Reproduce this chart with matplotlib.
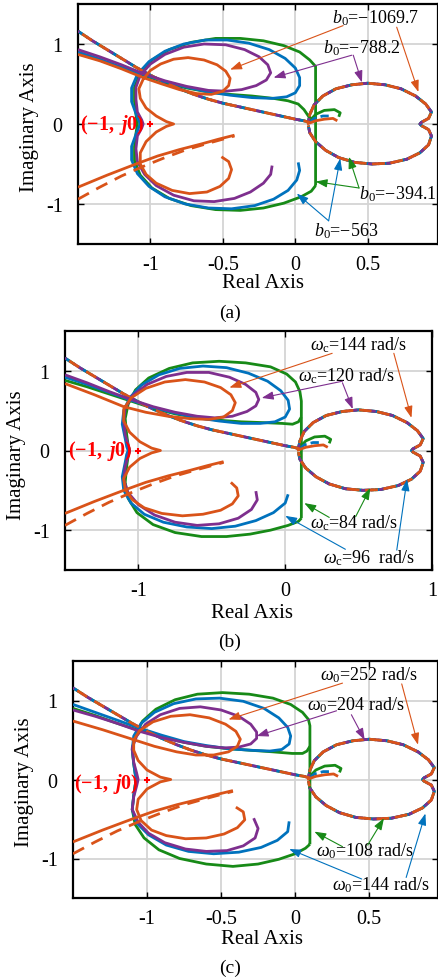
"""Nyquist plots of three parameter sweeps, stacked as panels (a), (b), (c)."""

import matplotlib
matplotlib.use("Agg")
import matplotlib.pyplot as plt
import numpy as np

plt.rcParams["font.family"] = ["Liberation Serif", "DejaVu Serif"]
plt.rcParams["mathtext.fontset"] = "custom"
plt.rcParams["mathtext.rm"] = "Liberation Serif"
plt.rcParams["mathtext.it"] = "Liberation Serif:italic"
plt.rcParams["mathtext.bf"] = "Liberation Serif:bold"
plt.rcParams["mathtext.bfit"] = "Liberation Serif:italic:bold"
plt.rcParams["axes.unicode_minus"] = False

ORANGE = "#D95319"
PURPLE = "#7E2F8E"
BLUE = "#0072BD"
GREEN = "#178A17"

# ---- panel (a): b0 sweep -------------------------------------------------
A_ORANGE = [(-1.5, 0.87), (-1.35, 0.79), (-1.2, 0.69), (-1.05, 0.58), (-0.92, 0.5), (-0.8, 0.43),
            (-0.68, 0.38), (-0.58, 0.37), (-0.5, 0.41), (-0.46, 0.48), (-0.45, 0.57), (-0.48, 0.66),
            (-0.54, 0.74), (-0.63, 0.8), (-0.74, 0.83), (-0.84, 0.81), (-0.93, 0.75), (-1.0, 0.67),
            (-1.05, 0.56), (-1.08, 0.44), (-1.07, 0.32), (-1.03, 0.2), (-0.96, 0.1), (-0.89, 0.03),
            (-0.84, 0.0), (-0.89, -0.03), (-0.96, -0.1), (-1.03, -0.22), (-1.07, -0.36), (-1.07, -0.5),
            (-1.03, -0.63), (-0.96, -0.74), (-0.85, -0.83), (-0.73, -0.87), (-0.61, -0.85), (-0.52, -0.78),
            (-0.46, -0.68), (-0.44, -0.57), (-0.46, -0.47), (-0.51, -0.41)]
A_PURPLE = [(-1.5, 0.93), (-1.35, 0.84), (-1.2, 0.74), (-1.05, 0.63), (-0.9, 0.54), (-0.75, 0.47),
            (-0.6, 0.42), (-0.48, 0.41), (-0.37, 0.43), (-0.27, 0.48), (-0.2, 0.55), (-0.17, 0.64),
            (-0.19, 0.74), (-0.25, 0.84), (-0.35, 0.93), (-0.48, 0.99), (-0.63, 1.0), (-0.77, 0.96),
            (-0.9, 0.87), (-1.0, 0.75), (-1.07, 0.61), (-1.1, 0.46), (-1.1, 0.31), (-1.09, 0.15),
            (-1.06, 0.05), (-1.05, 0.0), (-1.06, -0.05), (-1.09, -0.15), (-1.1, -0.31), (-1.09, -0.47),
            (-1.04, -0.63), (-0.96, -0.77), (-0.84, -0.89), (-0.7, -0.96), (-0.56, -0.97), (-0.42, -0.93),
            (-0.31, -0.85), (-0.22, -0.74), (-0.17, -0.63), (-0.16, -0.52)]
A_BLUE = [(-1.5, 0.9), (-1.35, 0.81), (-1.2, 0.71), (-1.05, 0.62), (-0.9, 0.53), (-0.75, 0.46),
          (-0.6, 0.4), (-0.45, 0.36), (-0.3, 0.33), (-0.16, 0.32), (-0.06, 0.34), (0.0, 0.39),
          (0.03, 0.48), (0.03, 0.58), (0.0, 0.7), (-0.07, 0.82), (-0.18, 0.93), (-0.32, 1.01),
          (-0.47, 1.05), (-0.62, 1.05), (-0.77, 1.0), (-0.9, 0.91), (-1.01, 0.78), (-1.09, 0.62),
          (-1.13, 0.45), (-1.13, 0.28), (-1.1, 0.13), (-1.08, 0.04), (-1.07, 0.0), (-1.08, -0.04),
          (-1.1, -0.13), (-1.13, -0.28), (-1.13, -0.45), (-1.09, -0.62), (-1.01, -0.78), (-0.9, -0.91),
          (-0.76, -1.0), (-0.6, -1.05), (-0.44, -1.06), (-0.28, -1.02), (-0.15, -0.94), (-0.05, -0.83),
          (0.01, -0.7), (0.03, -0.58), (0.02, -0.48)]
A_GREEN_IN = [(-1.5, 0.88), (-1.35, 0.8), (-1.2, 0.7), (-1.05, 0.61), (-0.9, 0.52), (-0.75, 0.45),
              (-0.6, 0.4), (-0.45, 0.37), (-0.3, 0.35), (-0.15, 0.32), (-0.05, 0.29), (0.02, 0.25),
              (0.06, 0.18), (0.09, 0.1), (0.12, 0.05), (0.14, 0.04)]
A_GREEN_OUT = [(0.14, -0.77), (0.14, 0.72), (0.1, 0.8), (0.03, 0.9), (-0.08, 0.98), (-0.22, 1.04),
               (-0.38, 1.07), (-0.55, 1.07), (-0.72, 1.02), (-0.87, 0.93), (-0.99, 0.8), (-1.07, 0.64),
               (-1.11, 0.46), (-1.11, 0.28), (-1.1, 0.12), (-1.09, 0.0), (-1.1, -0.12), (-1.11, -0.28),
               (-1.11, -0.46), (-1.07, -0.64), (-0.99, -0.8), (-0.87, -0.93), (-0.72, -1.02),
               (-0.55, -1.07), (-0.38, -1.08), (-0.22, -1.05), (-0.08, -0.99), (0.04, -0.91),
               (0.11, -0.84), (0.14, -0.77)]
A_NOTES = ["$b_0$=\u22121069.7", "$b_0$=\u2212788.2", "$b_0$=\u2212394.1", "$b_0$=\u2212563"]
A_NOTE_XY = [(0.55, 1.33), (0.46, 0.96), (0.71, -0.87), (0.35, -1.33)]
A_ARROWS = [[((0.33, 1.23), (-0.45, 0.68)), ((0.7, 1.21), (0.85, 0.4))],
            [((0.39, 0.86), (-0.15, 0.58)), ((0.4, 0.86), (0.46, 0.52))],
            [((0.44, -0.8), (0.14, -0.72)), ((0.44, -0.8), (0.37, -0.41))],
            [((0.23, -1.21), (0.01, -0.87)), ((0.23, -1.21), (0.31, -0.43))]]

# ---- panel (b): omega_c sweep --------------------------------------------
B_ORANGE = [(-1.5, 0.84), (-1.3, 0.7), (-1.1, 0.55), (-0.95, 0.48), (-0.8, 0.43), (-0.65, 0.4),
            (-0.52, 0.39), (-0.42, 0.42), (-0.36, 0.5), (-0.34, 0.6), (-0.37, 0.7), (-0.44, 0.79),
            (-0.55, 0.86), (-0.68, 0.89), (-0.82, 0.86), (-0.95, 0.78), (-1.05, 0.66), (-1.1, 0.52),
            (-1.1, 0.37), (-1.06, 0.23), (-0.99, 0.11), (-0.91, 0.03), (-0.85, 0.0), (-0.91, -0.03),
            (-0.99, -0.1), (-1.06, -0.21), (-1.1, -0.35), (-1.09, -0.49), (-1.04, -0.62), (-0.96, -0.72),
            (-0.84, -0.79), (-0.7, -0.82), (-0.56, -0.8), (-0.44, -0.75), (-0.36, -0.67), (-0.32, -0.57),
            (-0.33, -0.47), (-0.37, -0.4)]
B_PURPLE = [(-1.5, 0.95), (-1.35, 0.85), (-1.2, 0.74), (-1.05, 0.64), (-0.9, 0.55), (-0.75, 0.48),
            (-0.6, 0.43), (-0.48, 0.41), (-0.36, 0.43), (-0.26, 0.49), (-0.2, 0.56), (-0.18, 0.64),
            (-0.2, 0.73), (-0.27, 0.83), (-0.38, 0.92), (-0.52, 0.98), (-0.67, 0.98), (-0.81, 0.93),
            (-0.94, 0.83), (-1.04, 0.69), (-1.09, 0.53), (-1.1, 0.37), (-1.09, 0.2), (-1.07, 0.07),
            (-1.06, 0.0), (-1.07, -0.07), (-1.09, -0.2), (-1.1, -0.37), (-1.07, -0.53), (-1.0, -0.68),
            (-0.89, -0.81), (-0.75, -0.9), (-0.6, -0.94), (-0.45, -0.92), (-0.32, -0.85), (-0.23, -0.74),
            (-0.19, -0.62), (-0.2, -0.51)]
B_BLUE = [(-1.5, 0.92), (-1.35, 0.83), (-1.2, 0.73), (-1.05, 0.63), (-0.9, 0.54), (-0.75, 0.47),
          (-0.6, 0.41), (-0.45, 0.37), (-0.3, 0.34), (-0.17, 0.34), (-0.07, 0.36), (0.0, 0.42),
          (0.03, 0.52), (0.02, 0.63), (-0.03, 0.75), (-0.12, 0.87), (-0.25, 0.97), (-0.4, 1.04),
          (-0.56, 1.06), (-0.72, 1.03), (-0.86, 0.95), (-0.98, 0.82), (-1.06, 0.66), (-1.1, 0.5),
          (-1.11, 0.33), (-1.09, 0.15), (-1.08, 0.05), (-1.07, 0.0), (-1.08, -0.05), (-1.09, -0.15),
          (-1.11, -0.33), (-1.1, -0.5), (-1.05, -0.66), (-0.96, -0.8), (-0.83, -0.9), (-0.67, -0.96),
          (-0.5, -0.98), (-0.34, -0.95), (-0.2, -0.88), (-0.08, -0.78), (0.0, -0.66), (0.02, -0.55)]
B_GREEN_IN = [(-1.5, 0.88), (-1.35, 0.8), (-1.2, 0.71), (-1.05, 0.62), (-0.9, 0.53), (-0.75, 0.46),
              (-0.6, 0.41), (-0.45, 0.38), (-0.3, 0.36), (-0.15, 0.35), (-0.02, 0.34), (0.05, 0.33),
              (0.09, 0.36), (0.11, 0.42)]
B_GREEN_OUT = [(0.11, -0.85), (0.11, 0.62), (0.1, 0.74), (0.07, 0.86), (0.01, 0.96), (-0.1, 1.05),
               (-0.27, 1.1), (-0.45, 1.12), (-0.63, 1.1), (-0.79, 1.03), (-0.93, 0.91), (-1.02, 0.76),
               (-1.07, 0.58), (-1.09, 0.4), (-1.08, 0.2), (-1.07, 0.07), (-1.06, 0.0), (-1.07, -0.07),
               (-1.08, -0.2), (-1.09, -0.4), (-1.07, -0.6), (-1.01, -0.78), (-0.9, -0.93), (-0.75, -1.03),
               (-0.57, -1.08), (-0.4, -1.08), (-0.24, -1.05), (-0.1, -1.0), (0.02, -0.94), (0.09, -0.89),
               (0.11, -0.85)]
B_NOTES = [r"$\omega_{\rm c}$=144 rad/s", r"$\omega_{\rm c}$=120 rad/s",
           r"$\omega_{\rm c}$=84 rad/s", r"$\omega_{\rm c}$=96  rad/s"]
B_NOTE_XY = [(0.5, 1.33), (0.42, 0.95), (0.47, -0.9), (0.57, -1.34)]
B_ARROWS = [[((0.32, 1.22), (-0.38, 0.79)), ((0.74, 1.22), (0.86, 0.41))],
            [((0.39, 0.87), (-0.16, 0.66)), ((0.39, 0.85), (0.46, 0.52))],
            [((0.3, -0.84), (0.13, -0.66)), ((0.48, -0.83), (0.58, -0.47))],
            [((0.41, -1.24), (0.0, -0.82)), ((0.76, -1.25), (0.83, -0.36))]]

# ---- panel (c): omega_0 sweep --------------------------------------------
C_ORANGE = [(-1.5, 0.74), (-1.3, 0.63), (-1.1, 0.51), (-0.95, 0.42), (-0.8, 0.35), (-0.67, 0.31),
            (-0.55, 0.31), (-0.45, 0.35), (-0.39, 0.42), (-0.37, 0.51), (-0.4, 0.61), (-0.47, 0.7),
            (-0.58, 0.78), (-0.71, 0.82), (-0.84, 0.8), (-0.96, 0.73), (-1.05, 0.62), (-1.09, 0.5),
            (-1.09, 0.37), (-1.06, 0.24), (-1.0, 0.12), (-0.91, 0.03), (-0.84, 0.0), (-0.91, -0.03),
            (-1.0, -0.12), (-1.06, -0.25), (-1.07, -0.38), (-1.04, -0.52), (-0.97, -0.64), (-0.87, -0.71),
            (-0.74, -0.75), (-0.6, -0.74), (-0.48, -0.69), (-0.39, -0.61), (-0.34, -0.51), (-0.35, -0.41),
            (-0.4, -0.35)]
C_PURPLE = [(-1.5, 0.88), (-1.35, 0.8), (-1.2, 0.71), (-1.05, 0.61), (-0.9, 0.53), (-0.75, 0.47),
            (-0.6, 0.42), (-0.48, 0.4), (-0.38, 0.41), (-0.3, 0.45), (-0.26, 0.52), (-0.26, 0.6),
            (-0.3, 0.7), (-0.38, 0.8), (-0.5, 0.88), (-0.64, 0.92), (-0.78, 0.9), (-0.91, 0.82),
            (-1.01, 0.7), (-1.07, 0.55), (-1.1, 0.4), (-1.09, 0.22), (-1.07, 0.08), (-1.06, 0.0),
            (-1.07, -0.08), (-1.09, -0.22), (-1.1, -0.38), (-1.06, -0.54), (-0.99, -0.68), (-0.88, -0.8),
            (-0.74, -0.88), (-0.6, -0.91), (-0.46, -0.9), (-0.35, -0.84), (-0.27, -0.74), (-0.25, -0.62),
            (-0.28, -0.49)]
C_BLUE = [(-1.5, 0.95), (-1.35, 0.85), (-1.2, 0.75), (-1.05, 0.65), (-0.9, 0.56), (-0.75, 0.48),
          (-0.6, 0.43), (-0.45, 0.39), (-0.3, 0.37), (-0.17, 0.36), (-0.09, 0.38), (-0.04, 0.45),
          (-0.03, 0.55), (-0.05, 0.66), (-0.11, 0.78), (-0.21, 0.9), (-0.35, 0.99), (-0.51, 1.03),
          (-0.67, 1.02), (-0.82, 0.96), (-0.95, 0.85), (-1.04, 0.71), (-1.09, 0.55), (-1.1, 0.38),
          (-1.09, 0.2), (-1.08, 0.07), (-1.07, 0.0), (-1.08, -0.07), (-1.09, -0.2), (-1.1, -0.38),
          (-1.07, -0.55), (-0.99, -0.7), (-0.87, -0.83), (-0.72, -0.91), (-0.55, -0.94), (-0.38, -0.92),
          (-0.23, -0.86), (-0.12, -0.77), (-0.05, -0.66), (-0.04, -0.53)]
C_GREEN_IN = [(-1.5, 0.9), (-1.35, 0.81), (-1.2, 0.71), (-1.05, 0.62), (-0.9, 0.54), (-0.75, 0.47),
              (-0.6, 0.42), (-0.45, 0.39), (-0.3, 0.37), (-0.15, 0.35), (-0.02, 0.33), (0.05, 0.33),
              (0.08, 0.36), (0.1, 0.42)]
C_GREEN_OUT = [(0.1, -0.82), (0.1, 0.68), (0.09, 0.76), (0.05, 0.85), (-0.03, 0.95), (-0.15, 1.03),
               (-0.31, 1.08), (-0.49, 1.1), (-0.66, 1.08), (-0.81, 1.01), (-0.94, 0.89), (-1.03, 0.74),
               (-1.08, 0.56), (-1.1, 0.38), (-1.09, 0.2), (-1.08, 0.07), (-1.07, 0.0), (-1.08, -0.07),
               (-1.09, -0.2), (-1.1, -0.38), (-1.08, -0.57), (-1.02, -0.74), (-0.92, -0.89), (-0.78, -1.0),
               (-0.6, -1.07), (-0.42, -1.1), (-0.25, -1.07), (-0.11, -1.01), (0.0, -0.94), (0.07, -0.87),
               (0.1, -0.82)]
C_NOTES = [r"$\omega_0$=252 rad/s", r"$\omega_0$=204 rad/s",
           r"$\omega_0$=108 rad/s", r"$\omega_0$=144 rad/s"]
C_NOTE_XY = [(0.5, 1.33), (0.41, 0.95), (0.47, -0.89), (0.58, -1.33)]
C_ARROWS = [[((0.32, 1.22), (-0.45, 0.76)), ((0.72, 1.21), (0.83, 0.44))],
            [((0.28, 0.87), (-0.26, 0.55)), ((0.38, 0.82), (0.47, 0.5))],
            [((0.32, -0.85), (0.13, -0.66)), ((0.49, -0.83), (0.6, -0.49))],
            [((0.45, -1.26), (-0.04, -0.88)), ((0.75, -1.24), (0.88, -0.43))]]

# ---- branches that look the same in all three panels ----------------------
DASH_UP = [(-1.5, 1.16), (-1.4, 1.04), (-1.3, 0.93), (-1.2, 0.82), (-1.1, 0.71), (-1.0, 0.61),
           (-0.9, 0.52), (-0.8, 0.44), (-0.7, 0.37), (-0.6, 0.31), (-0.5, 0.26), (-0.4, 0.22),
           (-0.3, 0.18), (-0.2, 0.14), (-0.1, 0.1), (0.0, 0.06), (0.06, 0.04), (0.1, 0.02)]
CIRCLE = [(0.09, 0.02), (0.1, 0.12), (0.13, 0.24), (0.19, 0.35), (0.28, 0.44), (0.39, 0.49),
          (0.5, 0.51), (0.62, 0.49), (0.73, 0.44), (0.83, 0.35), (0.9, 0.25), (0.94, 0.15),
          (0.92, 0.07), (0.87, 0.02), (0.86, 0.0), (0.87, -0.02), (0.92, -0.07), (0.94, -0.15),
          (0.92, -0.26), (0.86, -0.36), (0.77, -0.44), (0.65, -0.49), (0.53, -0.5), (0.41, -0.48),
          (0.3, -0.42), (0.21, -0.33), (0.14, -0.22), (0.1, -0.11), (0.09, -0.02)]
HOOK_GREEN = [(0.1, 0.04), (0.14, 0.12), (0.2, 0.17), (0.27, 0.18), (0.31, 0.14), (0.3, 0.09)]
HOOK_BLUE = [(0.1, 0.02), (0.13, 0.07), (0.19, 0.1), (0.25, 0.1)]
HOOK_ORANGE = [(0.08, 0.0), (0.14, 0.04), (0.2, 0.06), (0.26, 0.07), (0.29, 0.04)]
LOW_SOLID = [(-1.5, -0.79), (-1.3, -0.64), (-1.1, -0.5), (-0.95, -0.4), (-0.8, -0.32),
             (-0.65, -0.25), (-0.53, -0.19), (-0.42, -0.14)]
LOW_DASH = [(-1.5, -0.94), (-1.35, -0.79), (-1.2, -0.65), (-1.05, -0.53), (-0.9, -0.42),
            (-0.75, -0.32), (-0.6, -0.24), (-0.5, -0.19), (-0.42, -0.15)]

NOTE_COLORS = [ORANGE, PURPLE, GREEN, BLUE]

W, H = 439, 979


def _xy(points):
    arr = np.asarray(points, dtype=float)
    return arr[:, 0], arr[:, 1]


def _line(ax, points, color, z, ls="-", lw=2.0):
    x, y = _xy(points)
    ax.plot(x, y, color=color, lw=lw, ls=ls, zorder=z,
            solid_capstyle="butt", dash_capstyle="butt", solid_joinstyle="round")


def draw_panel(ax, orange, purple, blue, green_in, green_out, notes, note_xy, arrows,
               xlim, xticks, xlabels, xgrid, label_x, label_y):
    ax.set_xlim(*xlim)
    ax.set_ylim(-1.5, 1.5)
    for gx in xgrid:
        ax.axvline(gx, color="#d4d4d4", lw=1.3, zorder=0)
    for gy in (-1, 0, 1):
        ax.axhline(gy, color="#d4d4d4", lw=1.3, zorder=0)

    # dashed branches: same path per colour, shifted dash phases
    for i, c in enumerate([GREEN, BLUE, PURPLE, ORANGE]):
        _line(ax, DASH_UP, c, 2 + i, ls=(i * 1.8, (4.2, 3.0)))
        _line(ax, CIRCLE, c, 2 + i, ls=(i * 1.5, (4.6, 2.0)))

    _line(ax, HOOK_GREEN, GREEN, 3)
    _line(ax, HOOK_BLUE, BLUE, 4, ls=(0, (3, 1.5)))
    _line(ax, HOOK_ORANGE, ORANGE, 5)

    _line(ax, green_out, GREEN, 3)
    _line(ax, green_in, GREEN, 3)
    _line(ax, blue, BLUE, 4)
    _line(ax, purple, PURPLE, 5)
    _line(ax, orange, ORANGE, 6)
    _line(ax, LOW_SOLID, ORANGE, 6)
    _line(ax, LOW_DASH, ORANGE, 6, ls=(0, (4.5, 3)))

    ax.plot([-1], [0], marker="+", color="red", ms=5, mew=1.5, zorder=9)
    ax.text(label_x, label_y, r"$\mathbf{(-1,}$ $\mathbfit{j}\mathbf{0)}$", color="red",
            fontsize=14.5, ha="right", va="center", zorder=10)

    for text, (tx, ty), arr, c in zip(notes, note_xy, arrows, NOTE_COLORS):
        ax.text(tx, ty, text, color="black", fontsize=13, ha="center", va="center", zorder=11)
        for start, end in arr:
            ax.annotate("", xy=end, xytext=start, zorder=11,
                        arrowprops=dict(arrowstyle="-|>,head_length=0.7,head_width=0.25",
                                        color=c, lw=0.8, shrinkA=0, shrinkB=0))

    ax.set_xticks(xticks)
    ax.set_xticklabels(xlabels)
    ax.set_yticks([-1, 0, 1])
    ax.set_yticklabels(["-1", "0", "1"])
    ax.tick_params(direction="in", length=4, width=1, top=True, right=True,
                   labelsize=14.5, pad=8)
    ax.tick_params(axis="y", pad=11)
    for sp in ax.spines.values():
        sp.set_linewidth(1.6)


def _fig_text(fig, px, py, s, **kw):
    fig.text(px / W, 1 - py / H, s, ha="center", va="center", **kw)


def main():
    fig = plt.figure(figsize=(W / 100, H / 100), dpi=100)

    panels = [
        ((78, 5, 438, 245), A_ORANGE, A_PURPLE, A_BLUE, A_GREEN_IN, A_GREEN_OUT,
         A_NOTES, A_NOTE_XY, A_ARROWS, (-1.5, 0.985), [-1, -0.5, 0, 0.5],
         ["-1", "-0.5", "0", "0.5"], [-1, -0.5, 0, 0.5], -1.04, 0.0,
         (263, 284), (230, 313), (30, 127), "(a)"),
        ((65, 332, 432, 571), B_ORANGE, B_PURPLE, B_BLUE, B_GREEN_IN, B_GREEN_OUT,
         B_NOTES, B_NOTE_XY, B_ARROWS, (-1.5, 1.0), [-1, 0, 1],
         ["-1", "0", "1"], [-1, 0], -1.04, 0.0,
         (252, 613), (230, 642), (17, 455), "(b)"),
        ((73, 662, 438, 899), C_ORANGE, C_PURPLE, C_BLUE, C_GREEN_IN, C_GREEN_OUT,
         C_NOTES, C_NOTE_XY, C_ARROWS, (-1.5, 0.965), [-1, -0.5, 0, 0.5],
         ["-1", "-0.5", "0", "0.5"], [-1, -0.5, 0, 0.5], -1.06, -0.04,
         (262, 940), (230, 968), (25, 782), "(c)"),
    ]

    for (box, o, p, b, gi, go, notes, nxy, arrs, xlim, xt, xl, xg, lx, ly,
         xlab, tag, ylab, tag_text) in panels:
        l, t, r, btm = box
        ax = fig.add_axes([l / W, 1 - btm / H, (r - l) / W, (btm - t) / H])
        draw_panel(ax, o, p, b, gi, go, notes, nxy, arrs, xlim, xt, xl, xg, lx, ly)
        _fig_text(fig, *xlab, "Real Axis", fontsize=15)
        _fig_text(fig, *tag, tag_text, fontsize=14)
        _fig_text(fig, *ylab, "Imaginary Axis", fontsize=15, rotation=90)

    fig.savefig("out.png", dpi=100)


if __name__ == "__main__":
    main()
